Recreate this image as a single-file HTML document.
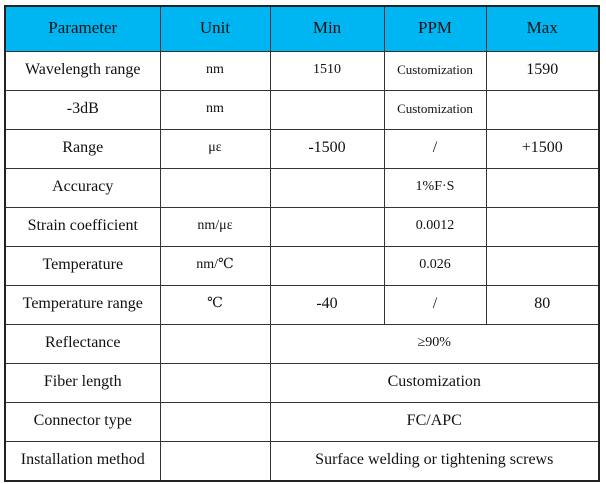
<!DOCTYPE html>
<html><head><style>
html,body{margin:0;padding:0;background:#fff;width:606px;height:484px;overflow:hidden}
table{position:absolute;left:4px;top:5px;border-collapse:collapse;border:2px solid #222;font-family:"Liberation Serif","DejaVu Serif",serif;font-size:16px;color:#111}
td{border:1.5px solid #333;text-align:center;padding:0 0 3px 0;height:35px;line-height:18px}
tr.h td{background:#00b6f2;height:41px;font-size:17px}
.s{font-size:14px}
.t{font-size:13px}
</style></head><body>
<table>
<colgroup><col style="width:155px"><col style="width:110px"><col style="width:114px"><col style="width:102px"><col style="width:113px"></colgroup>
<tr class="h"><td>Parameter</td><td>Unit</td><td>Min</td><td>PPM</td><td>Max</td></tr>
<tr><td>Wavelength range</td><td class="s">nm</td><td class="s">1510</td><td class="t">Customization</td><td>1590</td></tr>
<tr><td>-3dB</td><td class="s">nm</td><td></td><td class="t">Customization</td><td></td></tr>
<tr><td>Range</td><td class="s">με</td><td>-1500</td><td>/</td><td>+1500</td></tr>
<tr><td>Accuracy</td><td></td><td></td><td class="s">1%F·S</td><td></td></tr>
<tr><td>Strain coefficient</td><td class="s">nm/με</td><td></td><td class="s">0.0012</td><td></td></tr>
<tr><td>Temperature</td><td class="s">nm/℃</td><td></td><td class="s">0.026</td><td></td></tr>
<tr><td>Temperature range</td><td class="s">℃</td><td>-40</td><td>/</td><td>80</td></tr>
<tr><td>Reflectance</td><td></td><td colspan="3" class="s">≥90%</td></tr>
<tr><td>Fiber length</td><td></td><td colspan="3">Customization</td></tr>
<tr><td>Connector type</td><td></td><td colspan="3">FC/APC</td></tr>
<tr><td>Installation method</td><td></td><td colspan="3">Surface welding or tightening screws</td></tr>
</table>
</body></html>
